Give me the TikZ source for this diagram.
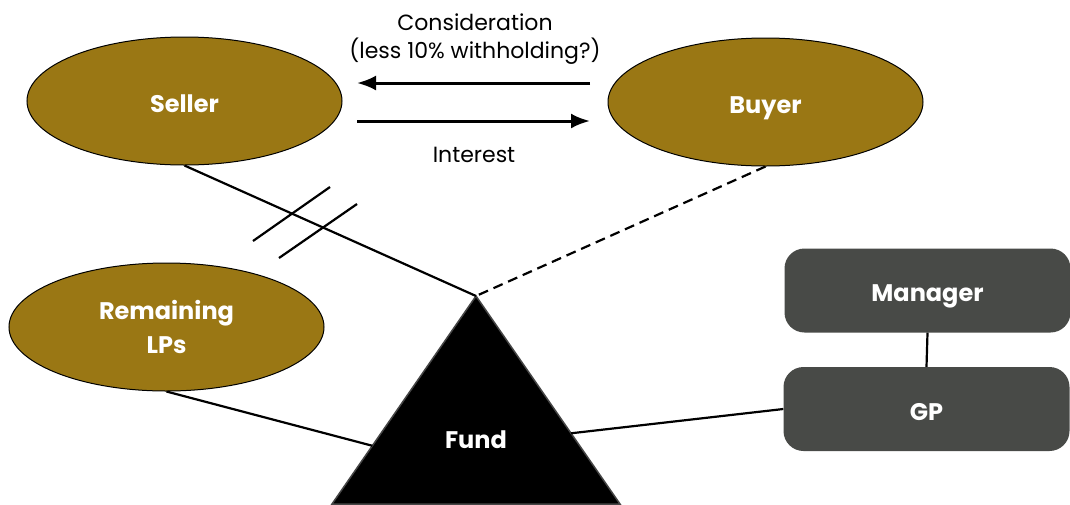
\documentclass[tikz,border=0pt]{standalone}
\usepackage{fontspec}
\setmainfont{Poppins}
\usetikzlibrary{shapes.geometric,arrows.meta,calc}
\definecolor{gold}{RGB}{154,119,20}
\definecolor{slate}{RGB}{72,74,71}
\begin{document}
\begin{tikzpicture}[x=1pt,y=-1pt,
  party/.style={ellipse,draw=black,line width=1pt,fill=gold,minimum width=315pt,minimum height=128pt,inner sep=0pt,text=white,font=\fontsize{24}{34}\selectfont\bfseries,align=center,text depth=0pt,text height=22pt},
  gpbox/.style={rounded corners=20pt,fill=slate,minimum width=286pt,minimum height=84pt,inner sep=0pt,text=white,font=\fontsize{24}{28}\selectfont\bfseries,text depth=0pt,text height=22pt},
  conn/.style={line width=2.2pt,black},
  flow/.style={line width=3pt,-{Latex[length=19pt,width=15pt]}},
  lbl/.style={font=\fontsize{22}{28}\selectfont,align=center,inner sep=0pt}
]
\useasboundingbox (0,0) rectangle (1070,504);
\node[party] (seller) at (184.5,101) {Seller};
\node[party] (buyer) at (765.5,102) {Buyer};
\node[party,text height={},text depth=-4pt] (lps) at (166.5,327) {Remaining\\LPs};
\node[gpbox] (mgr) at (927.5,290.5) {Manager};
\node[gpbox] (gp) at (926.5,409) {GP};
\coordinate (apex) at (476,296);
\coordinate (bl) at (332,504);
\coordinate (br) at (620,504);
\draw[fill=black,draw={rgb,255:red,70;green,70;blue,70},line width=1.5pt] (apex) -- (bl) -- (br) -- cycle;
\node[text=white,font=\fontsize{24}{28}\selectfont\bfseries] (fund) at (476,440) {Fund};
\coordinate (tl) at ($(apex)!0.72!(bl)$);
\coordinate (tr) at ($(apex)!0.66!(br)$);
\draw[conn] (seller.south) -- (apex);
\draw[conn,dashed,dash pattern=on 10pt off 6pt] (buyer.south) -- (apex);
\draw[conn] (lps.south) -- (tl);
\draw[conn] (gp.west) -- (tr);
\draw[conn] (mgr.south) -- (gp.north);
\coordinate (a1s) at (590,83);
\coordinate (a1e) at (357,83);
\coordinate (a2s) at (357,121);
\coordinate (a2e) at (590,121);
\draw[flow] (a1s) -- (a1e);
\draw[flow] (a2s) -- (a2e);
\node[lbl] (cons) at (475,39) {Consideration\\(less 10\% withholding?)};
\node[lbl] (int) at (474,155) {Interest};
\coordinate (h1a) at (253,241);
\coordinate (h1b) at (330,187);
\coordinate (h2a) at (279,258);
\coordinate (h2b) at (357,204);
\draw[conn] (h1a) -- (h1b);
\draw[conn] (h2a) -- (h2b);
\end{tikzpicture}
\end{document}
